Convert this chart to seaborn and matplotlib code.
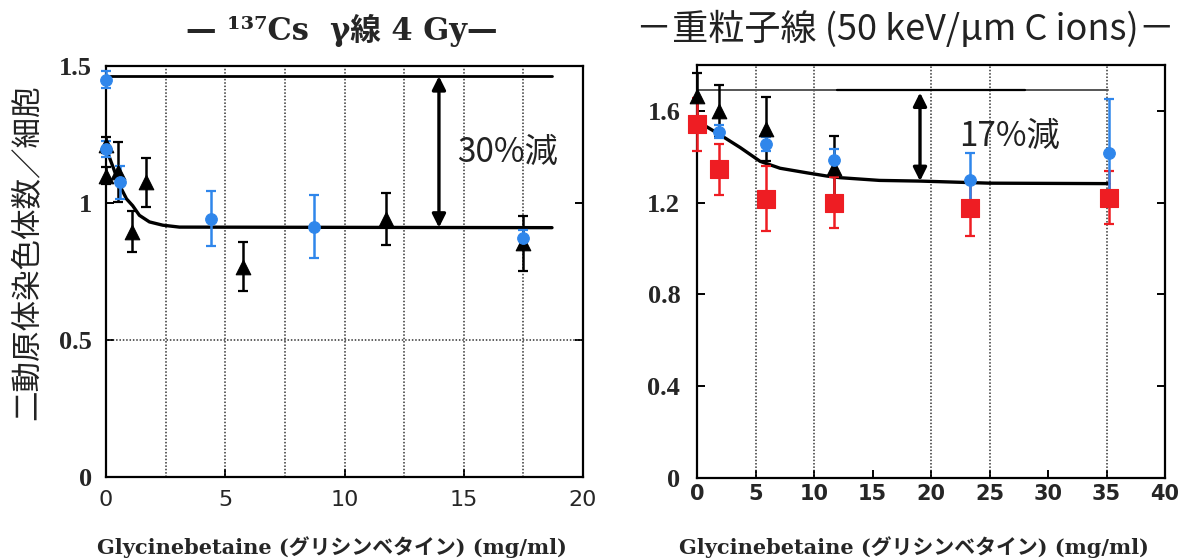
import matplotlib
matplotlib.use("Agg")
import matplotlib.pyplot as plt
import pandas as pd
import seaborn as sns

sns.set_style("white")
plt.rcParams['font.family'] = ['DejaVu Sans', 'Noto Sans CJK JP']

# ---- 137Cs gamma rays, 4 Gy ----
g_blue_x = [0.0, 0.0, 0.58, 4.39, 8.72, 17.5]
g_blue_y = [1.45, 1.197, 1.076, 0.943, 0.913, 0.871]
g_blue_err = [0.03, 0.03, 0.06, 0.10, 0.115, 0.03]

g_tri_x = [0.0, 0.0, 0.5, 1.1, 1.67, 5.76, 11.73, 17.5]
g_tri_y = [1.212, 1.10, 1.112, 0.895, 1.076, 0.768, 0.943, 0.853]
g_tri_err = [0.03, 0.03, 0.11, 0.075, 0.09, 0.09, 0.095, 0.10]

g_fit_x = [0.0, 0.3, 0.58, 0.86, 1.12, 1.4, 1.82, 2.38, 3.08, 18.7]
g_fit_y = [1.20, 1.13, 1.063, 1.015, 0.99, 0.955, 0.931, 0.919, 0.912, 0.91]
g_ref = 1.463
g_ref_end = 18.7
g_arrow_x = 13.96
g_note = "30%減"

# ---- heavy ions (50 keV/um C ions) ----
c_tri_x = [0.0, 1.9, 5.9, 11.7]
c_tri_y = [1.665, 1.60, 1.52, 1.352]
c_tri_err = [0.10, 0.115, 0.14, 0.14]

c_blue_x = [1.9, 5.9, 11.7, 23.3, 35.2]
c_blue_y = [1.51, 1.457, 1.384, 1.30, 1.418]
c_blue_err = [0.03, 0.03, 0.05, 0.118, 0.232]

c_red_x = [0.0, 1.9, 5.9, 11.7, 23.3, 35.2]
c_red_y = [1.541, 1.345, 1.218, 1.20, 1.175, 1.221]
c_red_err = [0.115, 0.11, 0.14, 0.11, 0.12, 0.115]

c_fit_x = [0.0, 1.9, 3.7, 5.4, 7.1, 9.4, 11.1, 12.2, 15.6, 19.1, 25.0, 35.2]
c_fit_y = [1.556, 1.498, 1.44, 1.38, 1.35, 1.33, 1.316, 1.309, 1.297, 1.294, 1.285, 1.283]
c_ref = 1.69
c_ref_end = 35.1
c_arrow_x = 19.06
c_note = "17%減"

BLUE = '#2f86eb'
RED = '#ee1d23'
SERIF = ['Liberation Serif', 'DejaVu Serif', 'Noto Sans CJK JP']
WIDE_SERIF = ['DejaVu Serif', 'Noto Sans CJK JP']
CJK = ['Noto Sans CJK JP', 'DejaVu Sans']

xlabel = "Glycinebetaine (グリシンベタイン) (mg/ml)"
ylabel = "二動原体染色体数／細胞"

fig = plt.figure(figsize=(11.8, 5.58), dpi=100)
ax1 = fig.add_axes([106 / 1180, 81 / 558, 477 / 1180, 411 / 558])
ax2 = fig.add_axes([697 / 1180, 80 / 558, 468 / 1180, 413 / 558])

dot = (0, (1, 1.2))


def frame(ax):
    for s in ax.spines.values():
        s.set_visible(True)
        s.set_color('black')
        s.set_linewidth(1.6)
    ax.tick_params(direction='in', length=6, width=1.4, color='black',
                   right=True, top=False, left=True, bottom=True)


def series(ax, x, y, err, color, marker, size, ecolor):
    eb = ax.errorbar(x, y, yerr=err, fmt='none', ecolor=ecolor, elinewidth=1.8,
                     capsize=3.5, capthick=1.6, zorder=3)
    for part in eb.lines[1] + eb.lines[2]:
        part.set_clip_on(False)
    df = pd.DataFrame({'x': x, 'y': y})
    sns.scatterplot(data=df, x='x', y='y', ax=ax, color=color, marker=marker,
                    s=size, edgecolor=color, linewidth=0.8, zorder=4,
                    legend=False, clip_on=False)


def fit_line(ax, x, y):
    df = pd.DataFrame({'x': x, 'y': y})
    sns.lineplot(data=df, x='x', y='y', ax=ax, color='black', lw=2.4,
                 sort=False, zorder=2, legend=False)


# left panel
for gx in [2.5, 5, 7.5, 10, 12.5, 15, 17.5]:
    ax1.axvline(gx, color='#333333', lw=1.1, ls=dot, zorder=1)
ax1.axhline(0.5, color='#333333', lw=1.1, ls=dot, zorder=1)
ax1.plot([0, g_ref_end], [g_ref, g_ref], color='black', lw=2.0, zorder=2)
fit_line(ax1, g_fit_x, g_fit_y)
ax1.annotate('', xy=(g_arrow_x, g_fit_y[-1]), xytext=(g_arrow_x, g_ref),
             arrowprops=dict(arrowstyle='<|-|>', color='black', lw=2.4,
                             mutation_scale=20, shrinkA=0, shrinkB=0), zorder=5)
series(ax1, g_tri_x, g_tri_y, g_tri_err, 'black', '^', 110, 'black')
series(ax1, g_blue_x, g_blue_y, g_blue_err, BLUE, 'o', 70, BLUE)
ax1.text(16.85, 1.185, g_note, fontsize=24, family=CJK, ha='center', va='center',
         color='#222222')
ax1.set_xlim(0, 20)
ax1.set_ylim(0, 1.49)
ax1.set_xticks([0, 5, 10, 15, 20])
ax1.set_yticks([0, 0.5, 1, 1.5])
ax1.set_yticklabels(['0', '0.5', '1', '1.5'])
frame(ax1)
ax1.tick_params(axis='y', pad=10)
ax1.tick_params(axis='x', pad=9)
for lab in ax1.get_xticklabels():
    lab.set_fontfamily('DejaVu Sans')
    lab.set_fontsize(16)
for lab in ax1.get_yticklabels():
    lab.set_fontfamily(SERIF)
    lab.set_fontweight('bold')
    lab.set_fontsize(19)
ax1.set_xlabel('')
ax1.set_ylabel('')

# right panel
for gx in [5, 10, 20, 25, 35]:
    ax2.axvline(gx, color='#333333', lw=1.1, ls=dot, zorder=1)
ax2.plot([0, c_ref_end], [c_ref, c_ref], color='#555555', lw=1.4, zorder=2)
ax2.plot([12, 28], [c_ref, c_ref], color='black', lw=1.6, zorder=2)
fit_line(ax2, c_fit_x, c_fit_y)
ax2.annotate('', xy=(c_arrow_x, c_fit_y[-3]), xytext=(c_arrow_x, c_ref - 0.01),
             arrowprops=dict(arrowstyle='<|-|>', color='black', lw=2.4,
                             mutation_scale=20, shrinkA=0, shrinkB=0), zorder=5)
series(ax2, c_tri_x, c_tri_y, c_tri_err, 'black', '^', 110, 'black')
series(ax2, c_red_x, c_red_y, c_red_err, RED, 's', 170, RED)
series(ax2, c_blue_x, c_blue_y, c_blue_err, BLUE, 'o', 70, BLUE)
ax2.text(26.75, 1.49, c_note, fontsize=24, family=CJK, ha='center', va='center',
         color='#222222')
ax2.set_xlim(0, 40)
ax2.set_ylim(0, 1.80)
ax2.set_xticks([0, 5, 10, 15, 20, 25, 30, 35, 40])
ax2.set_yticks([0, 0.4, 0.8, 1.2, 1.6])
ax2.set_yticklabels(['0', '0.4', '0.8', '1.2', '1.6'])
frame(ax2)
ax2.tick_params(axis='y', pad=12)
ax2.tick_params(axis='x', pad=4)
for lab in ax2.get_xticklabels():
    lab.set_fontfamily('DejaVu Sans')
    lab.set_fontweight('bold')
    lab.set_fontsize(15)
for lab in ax2.get_yticklabels():
    lab.set_fontfamily(SERIF)
    lab.set_fontweight('bold')
    lab.set_fontsize(19)
ax2.set_xlabel('')
ax2.set_ylabel('')

# titles and axis captions
fig.text(342 / 1180, 1 - 30 / 558, "— ¹³⁷Cs  γ線 4 Gy—", family=WIDE_SERIF,
         fontweight='bold', fontsize=22, ha='center', va='center')
fig.text(905 / 1180, 1 - 29 / 558, "－重粒子線 (50 keV/μm C ions)－", family=CJK,
         fontsize=26, ha='center', va='center', color='#222222')
fig.text(28 / 1180, 1 - 252 / 558, ylabel, family=CJK, fontsize=22,
         rotation=90, ha='center', va='center', color='#222222')
fig.text(332 / 1180, 1 - 547 / 558, xlabel, family=WIDE_SERIF, fontweight='bold',
         fontsize=15, ha='center', va='center')
fig.text(914 / 1180, 1 - 547 / 558, xlabel, family=WIDE_SERIF, fontweight='bold',
         fontsize=15, ha='center', va='center')

fig.savefig('out.png', dpi=100)
